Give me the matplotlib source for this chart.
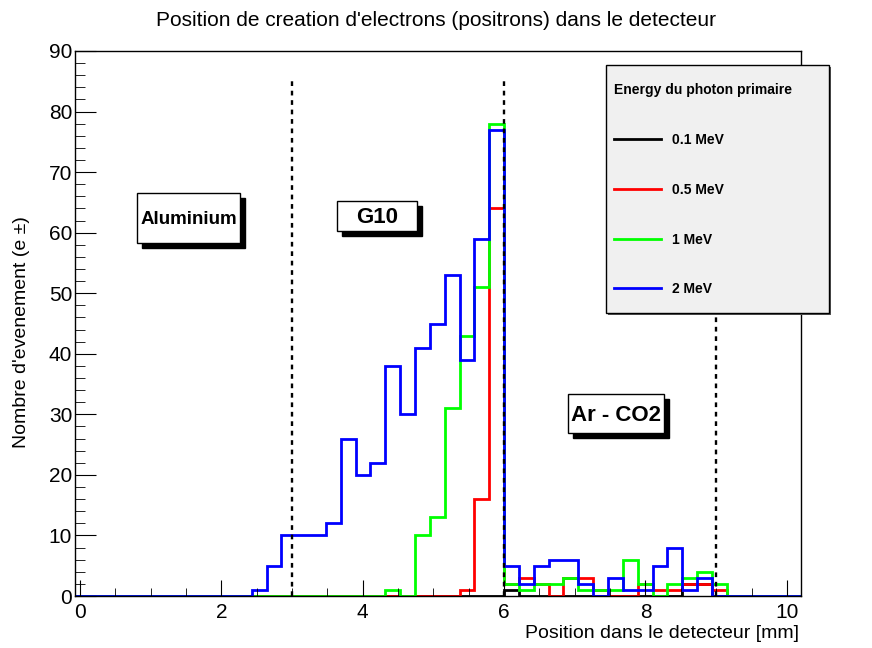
import matplotlib
matplotlib.use("Agg")
import matplotlib.pyplot as plt
import matplotlib.transforms as mtransforms
from matplotlib.lines import Line2D
from matplotlib.patches import Rectangle
from matplotlib.ticker import MultipleLocator
import numpy as np

plt.rcParams['font.family'] = ['Liberation Sans', 'DejaVu Sans']

# histogram binning (49 bins of 0.21 mm)
bin_start = -0.09
bin_width = 0.21
n_bins = 49

# bin contents, bin 0 starts at -0.09 mm
e01_mev = [0] * 29 + [1, 0, 0, 0, 0, 0, 0, 0, 0, 0, 0, 0, 2, 2, 0, 0, 0, 0, 0, 0]
e05_mev = ([0] * 26 + [1, 16, 64] +
           [2, 3, 2, 0, 3, 3, 1, 0, 0, 2, 1, 1, 2, 2, 1, 0, 0, 0, 0, 0])
e1_mev = ([0] * 21 + [1, 0, 10, 13, 31, 43, 51, 78] +
          [2, 1, 2, 2, 3, 1, 1, 1, 6, 2, 0, 2, 3, 4, 2, 0, 0, 0, 0, 0])
e2_mev = ([0] * 12 + [1, 5, 10, 10, 10, 12, 26, 20, 22, 38, 30, 41, 45, 53, 39, 59, 77] +
          [5, 2, 5, 6, 6, 2, 0, 3, 1, 1, 5, 8, 1, 3, 0, 0, 0, 0, 0, 0])

series = [e01_mev, e05_mev, e1_mev, e2_mev]
labels = ['0.1 MeV', '0.5 MeV', '1 MeV', '2 MeV']
colors = ['#000000', '#ff0000', '#00ff00', '#0000ff']

# layer boundaries [mm]
boundaries = [3, 6, 9]
regions = [('Aluminium', 0.81, 58.3, 2.27, 66.6, 13.5),
           ('G10', 3.64, 60.3, 4.77, 65.2, 16),
           ('Ar - CO2', 6.91, 26.9, 8.26, 33.4, 16)]

edges = bin_start + bin_width * np.arange(n_bins + 1)

fig = plt.figure(figsize=(8.72, 6.48), dpi=100)
ax = fig.add_axes([75 / 872, 1 - 596 / 648, 726 / 872, 545 / 648])

for vals, c in zip(series, colors):
    ax.stairs(vals, edges, color=c, lw=2)

ax.vlines(boundaries, 0, 85, colors='k', linestyles=(0, (2, 2)), lw=1.7)

ax.set_xlim(-0.07, 10.2)
ax.set_ylim(0, 90)
ax.xaxis.set_major_locator(MultipleLocator(2))
ax.xaxis.set_minor_locator(MultipleLocator(0.5))
ax.yaxis.set_major_locator(MultipleLocator(10))
ax.yaxis.set_minor_locator(MultipleLocator(2))
ax.tick_params(axis='both', which='both', direction='in', labelsize=15,
               top=False, right=False)
ax.tick_params(axis='y', which='major', length=15, pad=2)
ax.tick_params(axis='y', which='minor', length=7)
ax.tick_params(axis='x', which='major', length=11.5, pad=5)
ax.tick_params(axis='x', which='minor', length=5.5)
for s in ax.spines.values():
    s.set_linewidth(1.0)

# labelled boxes with drop shadow
shadow = mtransforms.offset_copy(ax.transData, fig=fig, x=5, y=-5, units='dots')
for name, x0, y0, x1, y1, fs in regions:
    ax.add_patch(Rectangle((x0, y0), x1 - x0, y1 - y0, transform=shadow,
                           facecolor='k', edgecolor='k', lw=1, zorder=5))
    ax.add_patch(Rectangle((x0, y0), x1 - x0, y1 - y0, facecolor='white',
                           edgecolor='k', lw=1, zorder=6))
    ax.text((x0 + x1) / 2, (y0 + y1) / 2 - 0.3, name, ha='center', va='center',
            fontsize=fs, fontweight='bold', zorder=7)

# legend panel
fig.patches.append(Rectangle((608 / 872, 1 - 315 / 648), 223 / 872, 248 / 648,
                             transform=fig.transFigure, facecolor='#555555',
                             edgecolor='none', zorder=3))
fig.patches.append(Rectangle((606 / 872, 1 - 313 / 648), 223 / 872, 248 / 648,
                             transform=fig.transFigure, facecolor='#f0f0f0',
                             edgecolor='k', lw=1, zorder=4))
handles = [Line2D([], [], color=c, lw=2) for c in colors]
leg = fig.legend(handles, labels, loc='upper left',
                 bbox_to_anchor=(614 / 872, 1 - 83 / 648),
                 bbox_transform=fig.transFigure, frameon=False,
                 title='Energy du photon primaire', alignment='left',
                 prop={'size': 10, 'weight': 'bold'},
                 title_fontproperties={'size': 10, 'weight': 'bold'},
                 borderpad=0, borderaxespad=0, labelspacing=2.58,
                 handlelength=3.4, handletextpad=0.75)
leg.set_zorder(5)

fig.text(0.5, 1 - 20 / 648,
         "Position de creation d'electrons (positrons) dans le detecteur",
         ha='center', va='center', fontsize=15)
fig.text(799 / 872, 1 - 633 / 648, 'Position dans le detecteur [mm]',
         ha='right', va='center', fontsize=14)
fig.text(22 / 872, 1 - 332 / 648, "Nombre d'evenement (e \u00b1)",
         ha='center', va='center', rotation=90, fontsize=14)

fig.savefig('out.png', dpi=100)
